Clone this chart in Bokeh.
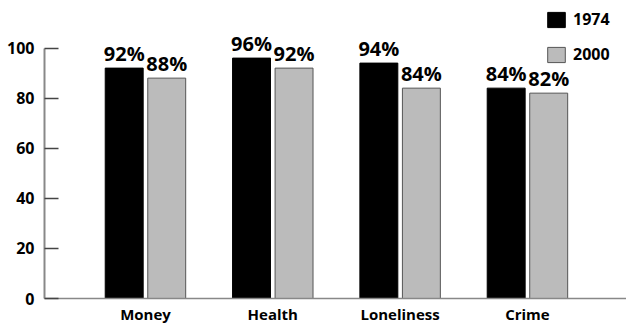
from bokeh.plotting import figure
from bokeh.models import ColumnDataSource, Range1d, FixedTicker, Legend, LegendItem
from bokeh.core.properties import value
from bokeh.embed import file_html
from bokeh.resources import INLINE

categories = ["Money", "Health", "Loneliness", "Crime"]
series_names = ["1974", "2000"]
values_1974 = [92, 96, 94, 84]
values_2000 = [88, 92, 84, 82]
y_ticks = [0, 20, 40, 60, 80, 100]

FONT = "Open Sans"
idx = list(range(len(categories)))
off = 0.167
bw = 0.298

src74 = ColumnDataSource(dict(x=[i - off for i in idx], top=values_1974,
                              lab=[f"{v}%" for v in values_1974]))
src00 = ColumnDataSource(dict(x=[i + off for i in idx], top=values_2000,
                              lab=[f"{v}%" for v in values_2000]))

p = figure(width=626, height=326, output_backend="svg", toolbar_location=None,
           x_range=Range1d(-0.793, 3.778), y_range=Range1d(0, 119.0),
           min_border_left=44, min_border_right=0, min_border_top=0, min_border_bottom=26)
p.outline_line_color = None
p.xgrid.visible = False
p.ygrid.visible = False
p.background_fill_color = "white"
p.border_fill_color = "white"

r74 = p.vbar(x="x", top="top", width=bw, bottom=0, source=src74,
             fill_color="black", line_color="black", line_width=1)
r00 = p.vbar(x="x", top="top", width=bw, bottom=0, source=src00,
             fill_color="#bbbbbb", line_color="#555555", line_width=1)

for s in (src74, src00):
    p.text(x="x", y="top", text="lab", source=s, text_align="center",
           text_baseline="alphabetic", y_offset=-15, text_font=value(FONT),
           text_font_style="bold", text_font_size="20px", text_color="black")

# y axis
ya = p.yaxis[0]
ya.ticker = FixedTicker(ticks=y_ticks)
ya.bounds = (0, 100)
ya.axis_line_color = "#888888"
ya.axis_line_width = 2
ya.major_tick_in = 14
ya.major_tick_out = 0
ya.major_tick_line_color = "#444444"
ya.major_tick_line_width = 1.5
ya.minor_tick_line_color = None
ya.major_label_standoff = 10
ya.major_label_text_font = FONT
ya.major_label_text_font_style = "bold"
ya.major_label_text_font_size = "16px"
ya.major_label_text_color = "black"

# x axis
xa = p.xaxis[0]
xa.ticker = FixedTicker(ticks=idx)
xa.major_label_overrides = {i: c for i, c in zip(idx, categories)}
xa.axis_line_color = "#888888"
xa.axis_line_width = 1.5
xa.major_tick_in = 0
xa.major_tick_out = 0
xa.minor_tick_line_color = None
xa.major_label_standoff = 5
xa.major_label_text_font = FONT
xa.major_label_text_font_style = "bold"
xa.major_label_text_font_size = "15px"
xa.major_label_text_color = "black"

legend = Legend(items=[LegendItem(label=series_names[0], renderers=[r74]),
                       LegendItem(label=series_names[1], renderers=[r00])],
                location=(501, 233), orientation="vertical",
                glyph_width=22, glyph_height=19, label_standoff=6,
                label_height=19, spacing=13, padding=0, margin=0,
                border_line_color=None, background_fill_alpha=0,
                label_text_font=FONT, label_text_font_style="bold",
                label_text_font_size="16px", label_text_color="black")
p.add_layout(legend)

open("out.html", "w").write(file_html(p, INLINE))
